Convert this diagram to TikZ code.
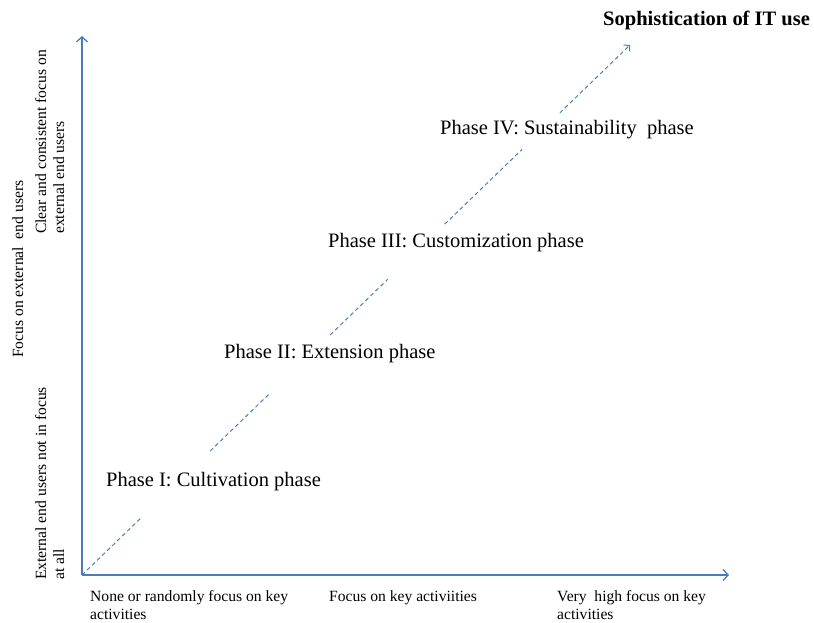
\documentclass[tikz,border=0pt]{standalone}
\usepackage{fontspec}
\setmainfont{Liberation Serif}
\usetikzlibrary{calc}
\usetikzlibrary{arrows.meta}
\usetikzlibrary{positioning}
\definecolor{axisblue}{RGB}{74,126,187}

\begin{document}
\begin{tikzpicture}[x=1pt,y=-1pt]
  \tikzstyle{axis}=[draw=axisblue, line width=1.3pt, -{Straight Barb[length=5pt,width=11pt]}]
  \tikzstyle{trend}=[draw=axisblue, line width=1pt, dash pattern=on 4pt off 3pt]
  \tikzstyle{phase}=[anchor=west, inner sep=0pt, font=\fontsize{20.5}{24}\selectfont]
  \tikzstyle{xlabel}=[anchor=north west, inner sep=0pt, align=left, font=\fontsize{15.6}{18}\selectfont]
  \tikzstyle{ylabel}=[xlabel, rotate=90]

  \useasboundingbox (0,0) rectangle (814,623);

  \coordinate (O) at (82,575);
  \coordinate (Y) at (82,36);
  \coordinate (X) at (729,575);
  \coordinate (T) at (630,45);

  \draw[axis] (O) -- (Y);
  \draw[axis] (O) -- (X);

  % broken dashed trend line
  \foreach \a/\b in {0/0.11, 0.234/0.343, 0.453/0.558, 0.662/0.803}
    \draw[trend] ($(O)!\a!(T)$) -- ($(O)!\b!(T)$);
  \draw[trend, -{Straight Barb[length=4pt,width=9pt]}] ($(O)!0.872!(T)$) -- (T);

  \node[phase] at (106,482) (P1) {Phase I: Cultivation phase};
  \node[phase] at (224,354) (P2) {Phase II: Extension phase};
  \node[phase] at (328,243) (P3) {Phase III: Customization phase};
  \node[phase] at (440,130) (P4) {Phase IV: Sustainability\ \ phase};

  \node[anchor=west, inner sep=0pt, font=\fontsize{20.5}{24}\selectfont\bfseries] at (603,20) (S) {Sophistication of IT use};

  \node[xlabel] at (90,590)  (XL) {None or randomly focus on key\\activities};
  \node[xlabel] at (329,590) (XM) {Focus on key activiities};
  \node[xlabel] at (557,590) (XH) {Very\ \ high focus on key\\activities};

  \node[ylabel] at (35,580) (YL) {External end users not in focus\\at all};
  \node[ylabel] at (12,358) (YM) {Focus on external\ \ end users};
  \node[ylabel] at (35,234) (YH) {Clear and consistent focus on\\external end users};
\end{tikzpicture}
\end{document}
